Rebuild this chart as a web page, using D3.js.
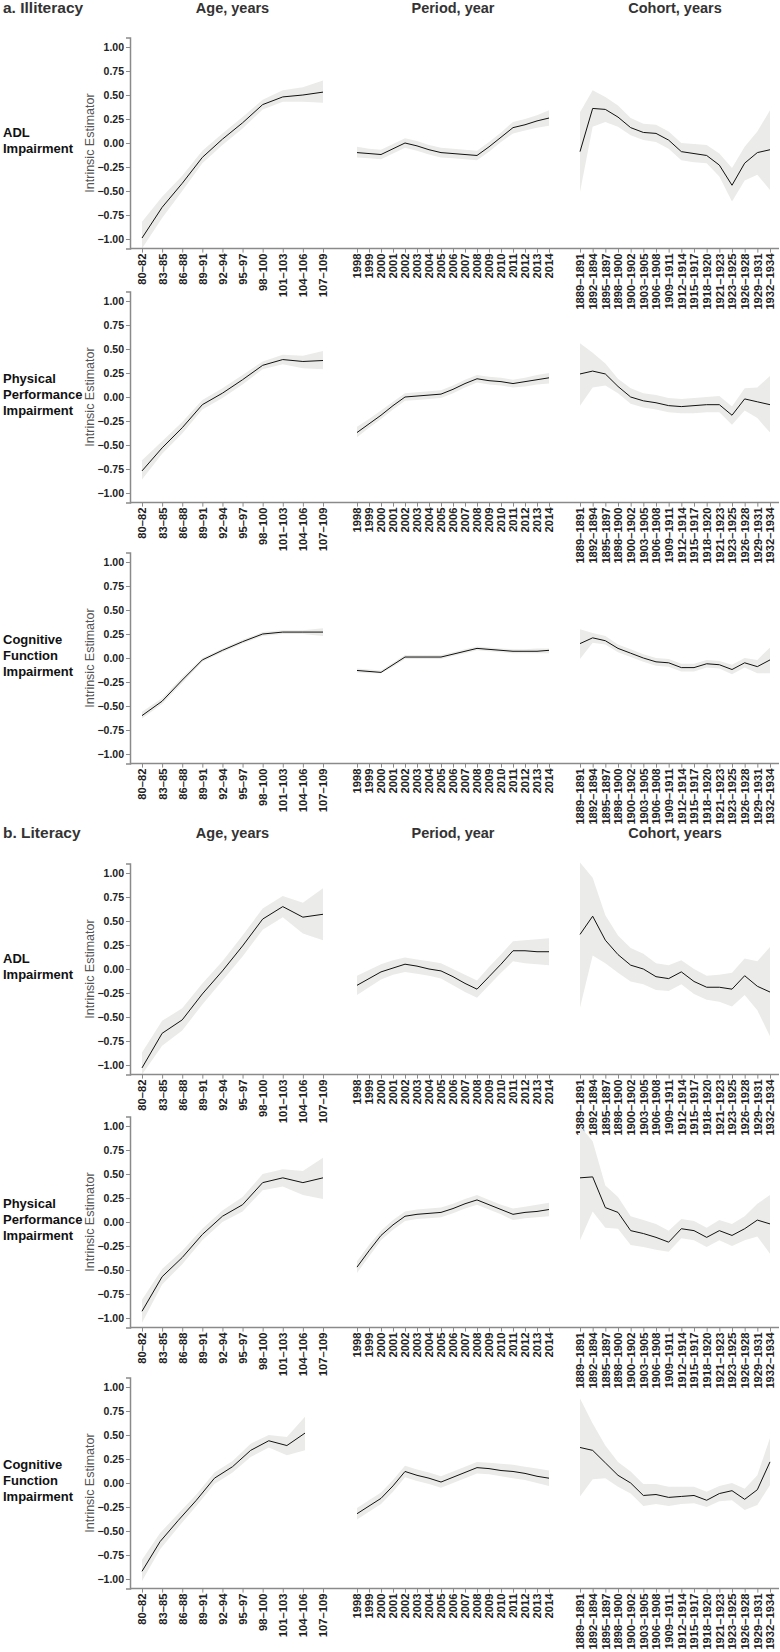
<!DOCTYPE html>
<html>
<head>
<meta charset="utf-8">
<script src="https://cdn.jsdelivr.net/npm/d3@7"></script>
<style>
  body { margin: 0; background: #fff; }
  svg { display: block; font-family: "Liberation Sans", Arial, sans-serif; }
  .tick text { font-weight: bold; fill: #222; }
</style>
</head>
<body>
<div id="svg-container"></div>
<script>
// ---- categories ----
var ageLabels = ["80–82","83–85","86–88","89–91","92–94","95–97","98–100","101–103","104–106","107–109"];
var periodLabels = ["1998","1999","2000","2001","2002","2003","2004","2005","2006","2007","2008","2009","2010","2011","2012","2013","2014"];
var cohortLabels = ["1889–1891","1892–1894","1895–1897","1898–1900","1900–1902","1903–1905","1906–1908","1909–1911",
                    "1912–1914","1915–1917","1918–1920","1921–1923","1923–1925","1926–1928","1929–1931","1932–1934"];
var yTicks = [-1, -0.75, -0.5, -0.25, 0, 0.25, 0.5, 0.75, 1];
var sections = ["a. Illiteracy", "b. Literacy"];
var groupTitles = ["Age, years", "Period, year", "Cohort, years"];
var outcomes = [["ADL", "Impairment"], ["Physical", "Performance", "Impairment"], ["Cognitive", "Function", "Impairment"]];

// ---- values: [lower, estimate, upper] ----
// a. Illiteracy, ADL
var illitAdlAge = [[-1.10,-0.99,-0.82],[-0.78,-0.67,-0.56],[-0.50,-0.42,-0.34],[-0.21,-0.15,-0.08],[-0.02,0.04,0.10],
                   [0.15,0.21,0.27],[0.35,0.40,0.45],[0.43,0.48,0.55],[0.43,0.50,0.58],[0.42,0.53,0.65]];
var illitAdlPeriod = [[-0.15,-0.10,-0.04],[-0.16,-0.11,-0.06],[-0.17,-0.12,-0.07],[-0.11,-0.06,-0.01],[-0.05,0.00,0.05],
                      [-0.08,-0.03,0.02],[-0.12,-0.07,-0.02],[-0.15,-0.10,-0.05],[-0.16,-0.11,-0.06],[-0.17,-0.12,-0.07],
                      [-0.18,-0.13,-0.08],[-0.09,-0.04,0.01],[0.01,0.06,0.11],[0.10,0.16,0.22],[0.13,0.19,0.25],
                      [0.16,0.23,0.29],[0.18,0.26,0.34]];
var illitAdlCohort = [[-0.51,-0.09,0.32],[0.17,0.36,0.55],[0.22,0.35,0.48],[0.17,0.27,0.39],[0.08,0.16,0.26],
                      [0.03,0.11,0.20],[0.01,0.10,0.19],[-0.06,0.03,0.12],[-0.18,-0.09,0.00],[-0.20,-0.11,-0.01],
                      [-0.21,-0.13,-0.02],[-0.35,-0.23,-0.11],[-0.61,-0.44,-0.26],[-0.39,-0.21,-0.04],[-0.33,-0.10,0.12],
                      [-0.49,-0.07,0.34]];
// a. Illiteracy, physical performance
var illitPhysAge = [[-0.86,-0.77,-0.66],[-0.59,-0.53,-0.46],[-0.38,-0.32,-0.26],[-0.13,-0.08,-0.03],[-0.01,0.04,0.09],
                    [0.13,0.18,0.23],[0.29,0.33,0.37],[0.34,0.39,0.44],[0.30,0.37,0.43],[0.29,0.38,0.48]];
var illitPhysPeriod = [[-0.42,-0.37,-0.31],[-0.32,-0.28,-0.23],[-0.23,-0.19,-0.14],[-0.13,-0.09,-0.05],[-0.04,0.00,0.04],
                       [-0.03,0.01,0.05],[-0.02,0.02,0.06],[-0.01,0.03,0.07],[0.04,0.08,0.12],[0.10,0.14,0.18],
                       [0.15,0.19,0.23],[0.13,0.17,0.21],[0.12,0.16,0.20],[0.10,0.14,0.18],[0.11,0.16,0.20],
                       [0.13,0.18,0.23],[0.14,0.20,0.25]];
var illitPhysCohort = [[-0.09,0.24,0.56],[0.10,0.27,0.46],[0.12,0.24,0.35],[0.04,0.11,0.19],[-0.07,0.00,0.09],
                       [-0.11,-0.04,0.04],[-0.13,-0.06,0.02],[-0.16,-0.09,-0.01],[-0.17,-0.10,-0.02],[-0.17,-0.09,-0.01],
                       [-0.16,-0.08,0.00],[-0.16,-0.08,0.01],[-0.29,-0.19,-0.10],[-0.14,-0.02,0.09],[-0.22,-0.05,0.10],
                       [-0.37,-0.08,0.22]];
// a. Illiteracy, cognitive function
var illitCogAge = [[-0.63,-0.60,-0.56],[-0.48,-0.45,-0.42],[-0.26,-0.23,-0.20],[-0.04,-0.02,0.00],[0.06,0.08,0.10],
                   [0.15,0.17,0.19],[0.23,0.25,0.27],[0.25,0.27,0.29],[0.25,0.27,0.29],[0.23,0.27,0.31]];
var illitCogPeriod = [[-0.15,-0.13,-0.11],[-0.16,-0.14,-0.12],[-0.16,-0.15,-0.13],[-0.09,-0.07,-0.05],[-0.01,0.01,0.03],
                      [-0.01,0.01,0.03],[-0.01,0.01,0.03],[-0.01,0.01,0.03],[0.02,0.04,0.06],[0.05,0.07,0.09],
                      [0.08,0.10,0.12],[0.07,0.09,0.11],[0.06,0.08,0.10],[0.05,0.07,0.09],[0.05,0.07,0.09],
                      [0.05,0.07,0.10],[0.05,0.08,0.10]];
var illitCogCohort = [[-0.01,0.15,0.30],[0.16,0.21,0.26],[0.14,0.18,0.23],[0.06,0.10,0.14],[0.01,0.05,0.09],
                      [-0.04,0.00,0.04],[-0.08,-0.04,0.00],[-0.09,-0.05,-0.01],[-0.14,-0.10,-0.06],[-0.14,-0.10,-0.06],
                      [-0.10,-0.06,-0.02],[-0.11,-0.07,-0.03],[-0.17,-0.12,-0.07],[-0.10,-0.05,0.00],[-0.16,-0.09,-0.02],
                      [-0.16,-0.02,0.11]];
// b. Literacy, ADL
var litAdlAge = [[-1.10,-1.03,-0.87],[-0.80,-0.67,-0.54],[-0.64,-0.53,-0.41],[-0.37,-0.26,-0.15],[-0.12,-0.02,0.08],
                 [0.13,0.24,0.35],[0.41,0.52,0.63],[0.54,0.65,0.76],[0.37,0.54,0.69],[0.30,0.57,0.84]];
var litAdlPeriod = [[-0.27,-0.17,-0.07],[-0.19,-0.10,-0.01],[-0.11,-0.03,0.05],[-0.06,0.01,0.09],[-0.03,0.05,0.12],
                    [-0.05,0.03,0.10],[-0.07,0.00,0.08],[-0.10,-0.02,0.06],[-0.17,-0.08,0.00],[-0.24,-0.15,-0.06],
                    [-0.30,-0.21,-0.12],[-0.17,-0.08,0.02],[-0.04,0.05,0.15],[0.08,0.19,0.29],[0.06,0.19,0.30],
                    [0.05,0.18,0.31],[0.04,0.18,0.32]];
var litAdlCohort = [[-0.40,0.36,1.11],[0.14,0.55,0.95],[0.06,0.30,0.56],[-0.04,0.15,0.35],[-0.13,0.04,0.22],
                    [-0.16,0.00,0.16],[-0.22,-0.08,0.06],[-0.23,-0.10,0.04],[-0.16,-0.03,0.09],[-0.26,-0.13,0.00],
                    [-0.32,-0.19,-0.07],[-0.34,-0.19,-0.06],[-0.39,-0.21,-0.04],[-0.27,-0.07,0.11],[-0.43,-0.18,0.08],
                    [-0.70,-0.24,0.23]];
// b. Literacy, physical performance
var litPhysAge = [[-1.05,-0.93,-0.81],[-0.65,-0.57,-0.49],[-0.44,-0.37,-0.30],[-0.19,-0.13,-0.07],[0.00,0.06,0.12],
                  [0.11,0.18,0.26],[0.33,0.41,0.50],[0.37,0.46,0.55],[0.28,0.41,0.53],[0.24,0.46,0.67]];
var litPhysPeriod = [[-0.53,-0.47,-0.41],[-0.36,-0.30,-0.24],[-0.19,-0.14,-0.09],[-0.08,-0.03,0.02],[0.01,0.06,0.11],
                     [0.03,0.08,0.13],[0.04,0.09,0.14],[0.05,0.10,0.15],[0.09,0.14,0.19],[0.14,0.19,0.24],
                     [0.18,0.23,0.28],[0.13,0.18,0.23],[0.08,0.13,0.18],[0.02,0.08,0.14],[0.04,0.10,0.16],
                     [0.05,0.11,0.18],[0.06,0.13,0.20]];
var litPhysCohort = [[-0.19,0.46,1.00],[0.11,0.47,0.84],[-0.06,0.15,0.38],[-0.07,0.10,0.26],[-0.24,-0.09,0.06],
                     [-0.26,-0.12,0.02],[-0.29,-0.16,-0.02],[-0.31,-0.21,-0.09],[-0.17,-0.07,0.03],[-0.19,-0.09,0.01],
                     [-0.26,-0.16,-0.06],[-0.19,-0.09,0.02],[-0.25,-0.14,-0.02],[-0.19,-0.07,0.06],[-0.15,0.02,0.19],
                     [-0.33,-0.02,0.28]];
// b. Literacy, cognitive function
var litCogAge = [[-1.02,-0.92,-0.80],[-0.69,-0.61,-0.52],[-0.46,-0.39,-0.32],[-0.24,-0.18,-0.12],[-0.01,0.05,0.11],
                 [0.11,0.17,0.23],[0.27,0.34,0.41],[0.37,0.44,0.50],[0.29,0.39,0.48],[0.34,0.52,0.69]];
var litCogPeriod = [[-0.38,-0.32,-0.26],[-0.30,-0.24,-0.18],[-0.22,-0.16,-0.10],[-0.09,-0.03,0.03],[0.06,0.12,0.18],
                    [0.02,0.08,0.14],[-0.01,0.05,0.11],[-0.05,0.01,0.07],[0.00,0.06,0.12],[0.05,0.11,0.17],
                    [0.10,0.16,0.22],[0.09,0.15,0.21],[0.07,0.13,0.20],[0.05,0.12,0.19],[0.03,0.10,0.17],
                    [0.00,0.07,0.15],[-0.03,0.05,0.13]];
var litCogCohort = [[-0.14,0.37,0.88],[0.04,0.34,0.62],[0.05,0.21,0.39],[-0.04,0.08,0.22],[-0.11,0.00,0.12],
                    [-0.24,-0.13,-0.01],[-0.22,-0.12,-0.01],[-0.24,-0.15,-0.04],[-0.22,-0.14,-0.04],[-0.21,-0.13,-0.04],
                    [-0.25,-0.18,-0.09],[-0.19,-0.11,-0.03],[-0.18,-0.08,0.00],[-0.28,-0.17,-0.06],[-0.23,-0.07,0.08],
                    [-0.02,0.22,0.47]];

// ---- layout ----
var width = 780, height = 1652;
var panelTops = [47, 301, 562, 873, 1126, 1387];   // y of the 1.00 tick
var sectionTitleY = [13, 838];
var axisX = 130;

var svg = d3.select("#svg-container")
            .append("svg")
            .attr("width", width)
            .attr("height", height);

var scaleAge = d3.scalePoint().domain(ageLabels).range([142, 323]);
var scalePeriod = d3.scalePoint().domain(periodLabels).range([357, 549]);
var scaleCohort = d3.scalePoint().domain(cohortLabels).range([580, 770]);
// the literacy / cognitive age curve is drawn compressed in the original figure
var scaleAgeShort = d3.scalePoint().domain(ageLabels).range([142, 305]);

var panels = [
  { age: illitAdlAge, period: illitAdlPeriod, cohort: illitAdlCohort },
  { age: illitPhysAge, period: illitPhysPeriod, cohort: illitPhysCohort },
  { age: illitCogAge, period: illitCogPeriod, cohort: illitCogCohort },
  { age: litAdlAge, period: litAdlPeriod, cohort: litAdlCohort },
  { age: litPhysAge, period: litPhysPeriod, cohort: litPhysCohort },
  { age: litCogAge, period: litCogPeriod, cohort: litCogCohort, ageScale: scaleAgeShort }
];

// section + group titles
sections.forEach(function(s, k) {
  svg.append("text")
     .attr("x", 3).attr("y", sectionTitleY[k])
     .style("font-size", "15.5px").style("font-weight", "bold").attr("fill", "#333")
     .text(s);
  [scaleAge, scalePeriod, scaleCohort].forEach(function(sc, j) {
    var r = sc.range();
    svg.append("text")
       .attr("x", (r[0] + r[1]) / 2).attr("y", sectionTitleY[k])
       .attr("text-anchor", "middle")
       .style("font-size", "14.5px").style("font-weight", "bold").attr("fill", "#333")
       .text(groupTitles[j]);
  });
});

function drawPanel(p, i) {
  var top = panelTops[i];
  var y = d3.scaleLinear().domain([-1.1, 1.1]).range([top + 201.6, top - 9.6]);
  var base = y(-1.1);
  var g = svg.append("g").attr("class", "panel");

  // row label
  var lines = outcomes[i % 3];
  var lab = g.append("text")
             .attr("x", 3)
             .style("font-size", "13px").style("font-weight", "bold").attr("fill", "#111");
  lines.forEach(function(t, k) {
    lab.append("tspan").attr("x", 3)
       .attr("y", y(0) + 2 - (lines.length - 1) * 8 + k * 16)
       .text(t);
  });

  g.append("text")
   .attr("transform", "translate(94," + y(0) + ") rotate(-90)")
   .attr("text-anchor", "middle")
   .style("font-size", "12.5px").attr("fill", "#555")
   .text("Intrinsic Estimator");

  // ribbons + lines
  [["age", p.ageScale || scaleAge], ["period", scalePeriod], ["cohort", scaleCohort]].forEach(function(pair) {
    var data = p[pair[0]];
    var sc = pair[1];
    var dom = sc.domain();
    var area = d3.area()
                 .x(function(d, j) { return sc(dom[j]); })
                 .y0(function(d) { return y(d[0]); })
                 .y1(function(d) { return y(d[2]); });
    var line = d3.line()
                 .x(function(d, j) { return sc(dom[j]); })
                 .y(function(d) { return y(d[1]); });
    g.append("path").datum(data)
     .attr("fill", "#ebebe9").attr("stroke", "none")
     .attr("d", area);
    g.append("path").datum(data)
     .attr("fill", "none").attr("stroke", "#111").attr("stroke-width", 1)
     .attr("d", line);
  });

  // y axis
  var yAxis = g.append("g")
               .attr("transform", "translate(" + axisX + ",0)")
               .call(d3.axisLeft(y).tickValues(yTicks).tickSize(4).tickPadding(2).tickFormat(d3.format(".2f")));
  yAxis.select(".domain").attr("stroke", "#8a8a8a").attr("stroke-width", 1.5);
  yAxis.selectAll(".tick line").attr("stroke", "#8a8a8a");
  yAxis.selectAll("text").style("font-size", "10.5px");

  // x axes
  g.append("line")
   .attr("x1", axisX).attr("x2", width - 1)
   .attr("y1", base).attr("y2", base)
   .attr("stroke", "#8a8a8a").attr("stroke-width", 1.5);

  [scaleAge, scalePeriod, scaleCohort].forEach(function(sc) {
    var xa = g.append("g")
              .attr("transform", "translate(0," + base + ")")
              .call(d3.axisBottom(sc).tickSize(4));
    xa.select(".domain").remove();
    xa.selectAll(".tick line").attr("stroke", "#8a8a8a");
    xa.selectAll("text")
      .style("font-size", "11.2px")
      .attr("transform", "rotate(-90)")
      .attr("text-anchor", "end")
      .attr("x", -5).attr("y", 0).attr("dy", "0.35em");
  });
}

panels.forEach(drawPanel);
</script>
</body>
</html>
